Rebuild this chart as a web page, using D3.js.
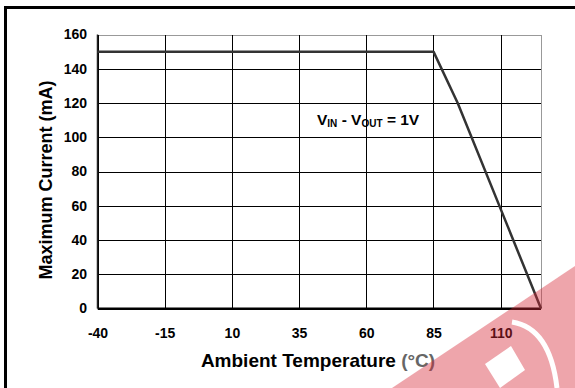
<!DOCTYPE html>
<html>
<head>
<meta charset="utf-8">
<script src="https://cdn.jsdelivr.net/npm/d3@7"></script>
<style>
  html, body { margin: 0; padding: 0; background: #fff; }
  svg { display: block; }
  text { font-family: "Liberation Sans", Arial, sans-serif; font-weight: bold; fill: #000; }
</style>
</head>
<body>
<svg id="chart" width="575" height="388"></svg>
<script>
// Derating curve: maximum output current vs ambient temperature
const temperature = [-40, 85, 94, 125];
const maxCurrent = [150, 150, 120, 0];
const xTickValues = [-40, -15, 10, 35, 60, 85, 110];
const yTickValues = [0, 20, 40, 60, 80, 100, 120, 140, 160];
const xDomain = [-40, 125];
const yDomain = [0, 160];

const svg = d3.select("#chart");

const x = d3.scaleLinear().domain(xDomain).range([97.5, 541]);
const y = d3.scaleLinear().domain(yDomain).range([308.5, 34.5]);
const fmt = d => String(d);

// outer frame
svg.append("rect")
  .attr("x", 5.5).attr("y", 7.5)
  .attr("width", 620).attr("height", 420)
  .attr("fill", "#fff").attr("stroke", "#000").attr("stroke-width", 3);

const plot = svg.append("g");

// horizontal grid
plot.append("g")
  .attr("transform", `translate(${x.range()[0]},0)`)
  .call(d3.axisLeft(y).tickValues(yTickValues).tickSize(-(x.range()[1] - x.range()[0])).tickFormat(""))
  .call(g => g.select(".domain").remove())
  .call(g => g.selectAll("line").attr("stroke", "#000").attr("stroke-width", 1)
    .attr("shape-rendering", "crispEdges"))
  .call(g => g.selectAll(".tick").filter(d => d === yDomain[1]).select("line").attr("stroke", "#999"));

// vertical grid
plot.append("g")
  .attr("transform", `translate(0,${y.range()[0]})`)
  .call(d3.axisBottom(x).tickValues(xTickValues.concat([xDomain[1]])).tickSize(-(y.range()[0] - y.range()[1])).tickFormat(""))
  .call(g => g.select(".domain").remove())
  .call(g => g.selectAll("line").attr("stroke", "#000").attr("stroke-width", 1)
    .attr("shape-rendering", "crispEdges"))
  .call(g => g.selectAll(".tick").filter(d => d === xDomain[1]).select("line").attr("stroke", "#999"));

// axis lines
plot.append("line")
  .attr("x1", x(xDomain[0])).attr("x2", x(xDomain[1]))
  .attr("y1", y(0)).attr("y2", y(0))
  .attr("stroke", "#000").attr("stroke-width", 2);
plot.append("line")
  .attr("x1", x(xDomain[0])).attr("x2", x(xDomain[0]))
  .attr("y1", y(0)).attr("y2", y(yDomain[1]))
  .attr("stroke", "#222").attr("stroke-width", 1.5);

const styleTicks = sel => sel.selectAll("text")
  .attr("font-size", 14).attr("font-family", "'Liberation Sans', Arial, sans-serif")
  .attr("font-weight", "bold").attr("fill", "#000");

// y tick labels
svg.append("g")
  .attr("transform", `translate(${x.range()[0]},0)`)
  .call(d3.axisLeft(y).tickValues(yTickValues).tickFormat(fmt).tickSize(0).tickPadding(10.5))
  .call(g => g.select(".domain").remove())
  .call(styleTicks);

// x tick labels
svg.append("g")
  .attr("transform", `translate(0,${y.range()[0]})`)
  .call(d3.axisBottom(x).tickValues(xTickValues).tickFormat(fmt).tickSize(0).tickPadding(20))
  .call(g => g.select(".domain").remove())
  .call(styleTicks);

// curve
const line = d3.line().x((d, i) => x(temperature[i])).y(d => y(d));
plot.append("path")
  .datum(maxCurrent)
  .attr("d", line)
  .attr("fill", "none")
  .attr("stroke", "#333")
  .attr("stroke-width", 2.5)
  .attr("stroke-linejoin", "round");

// axis titles
const xt = svg.append("text")
  .attr("x", 318).attr("y", 367)
  .attr("text-anchor", "middle")
  .attr("font-size", 19);
xt.append("tspan").text("Ambient Temperature ");
xt.append("tspan").attr("fill", "#666").text("(°C)");

svg.append("text")
  .attr("transform", "translate(52,180) rotate(-90)")
  .attr("text-anchor", "middle")
  .attr("font-size", 18)
  .text("Maximum Current (mA)");

// condition label
const cond = svg.append("text")
  .attr("x", 317).attr("y", 125)
  .attr("font-size", 15.5);
cond.append("tspan").text("V");
cond.append("tspan").attr("font-size", 10).attr("dy", 2).text("IN");
cond.append("tspan").attr("dy", -2).text(" - V");
cond.append("tspan").attr("font-size", 10).attr("dy", 2).text("OUT");
cond.append("tspan").attr("dy", -2).text(" = 1V");

// corner logo mark
const mark = svg.append("g");
mark.append("path")
  .attr("d", "M392,388 L575,266 L575,388 Z")
  .attr("fill", "rgb(214,40,55)")
  .attr("opacity", 0.42);
mark.append("path")
  .attr("d", "M512,322 Q550,328 557,388")
  .attr("fill", "none").attr("stroke", "#fff").attr("stroke-width", 5);
mark.append("path")
  .attr("d", "M485,364 L511,346 L525,370 L500,388 Z")
  .attr("fill", "#fff");
</script>
</body>
</html>
